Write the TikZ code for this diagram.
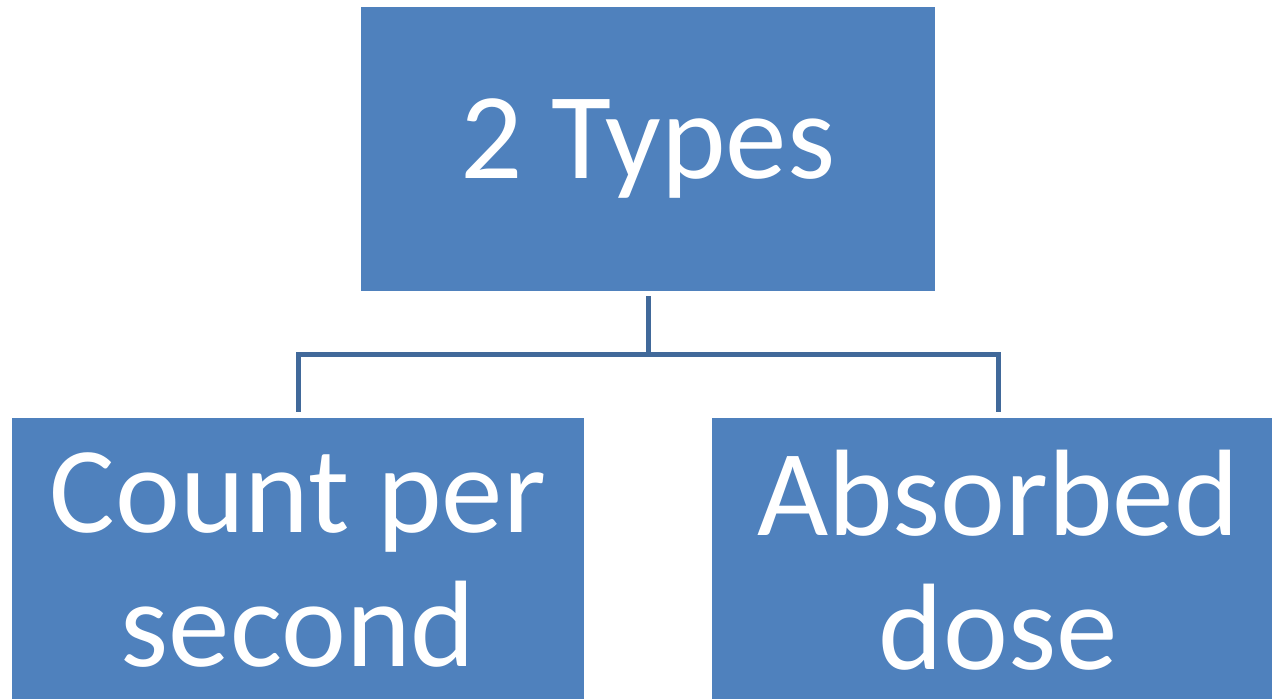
\documentclass[tikz,border=0pt]{standalone}
\usepackage{fontspec}
\setmainfont{Carlito}
\usetikzlibrary{positioning}
\definecolor{boxblue}{HTML}{4F81BD}
\definecolor{linkblue}{HTML}{41699A}

\begin{document}
\begin{tikzpicture}[x=0.5pt, y=-0.5pt]
	\clip (0,0) rectangle (1272,699);
	\begin{scope}[every node/.style={rectangle, fill=boxblue, text=white, align=center, inner sep=0pt,
	              font=\fontsize{61.5pt}{67pt}\selectfont}]
		\node[minimum width=287pt, minimum height=142pt] (types) at (648,149) {2 Types};
		\node[minimum width=286pt, minimum height=142pt] (count) at (298,560) {Count per\\second};
		\node[minimum width=286pt, minimum height=142pt] (dose) at (998,560) {Absorbed\\dose};
	\end{scope}

	\begin{scope}[every path/.style={draw=linkblue, line width=2.5pt}]
		\coordinate (split) at (648,355);
		\path[shorten <=2.5pt] (types.south) -- (split);
		\path[shorten >=3pt] (split) -| (count.north);
		\path[shorten >=3pt] (split) -| (dose.north);
	\end{scope}
\end{tikzpicture}
\end{document}
